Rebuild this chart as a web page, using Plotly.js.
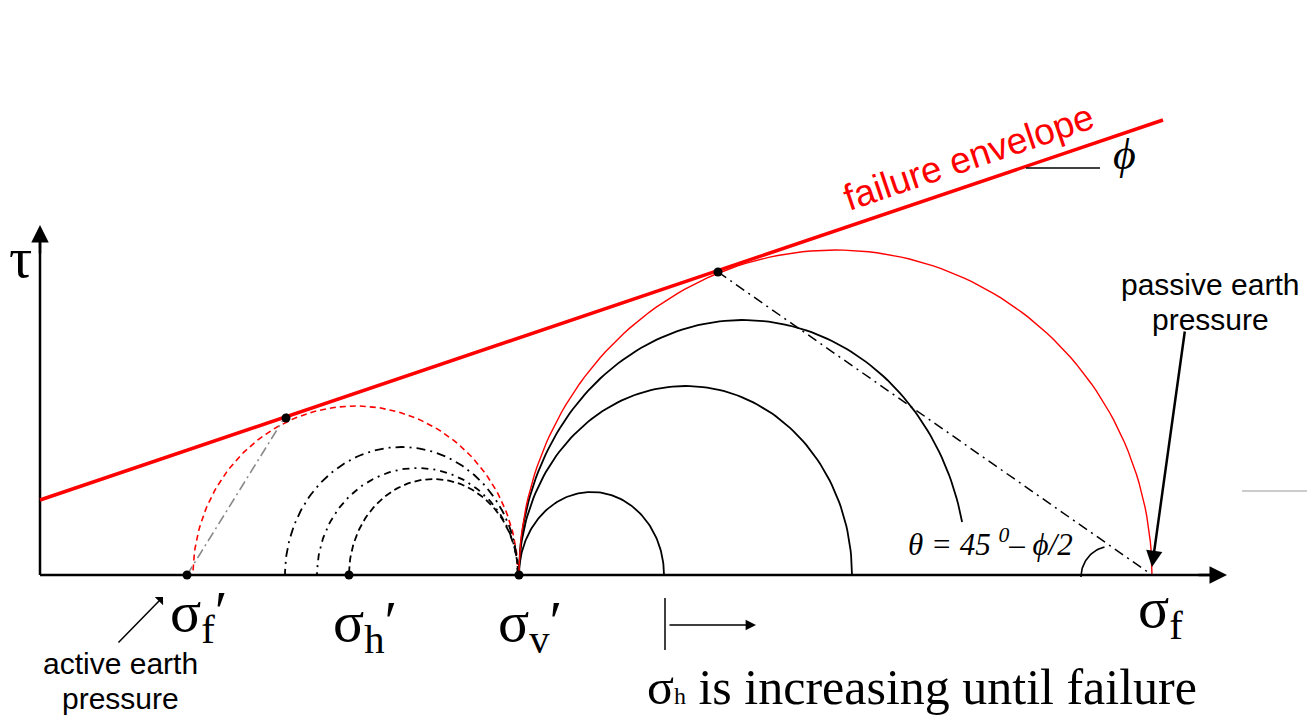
<!DOCTYPE html>
<html>
<head>
<meta charset="utf-8">
<script src="https://cdn.plot.ly/plotly-3.0.1.min.js"></script>
<style>html,body{margin:0;padding:0;background:#fff;}#chart{width:1307px;height:715px;}</style>
</head>
<body>
<div id="chart"></div>
<script>
// ---- Data (sigma along x, tau along y; diagram units) ----
const circleNames   = ['active failure', 'trial 3', 'trial 2', 'trial 1', 'stage 1', 'stage 2', 'stage 3', 'passive failure'];
const circleCenter  = [315.5, 361.5, 377.5, 393.5, 551.5, 645.5, 703, 795.5];
const circleHalfW   = [162.5, 116.5, 100.5, 84.5, 72.5, 166.5, 224, 316.5];
const circleHeight  = [169, 128, 107, 96, 83, 189, 255, 325];
const circleEndDeg  = [0, 0, 0, 0, 0, 0, 12, 0];
const circleColor   = ['#ff0000', '#000000', '#000000', '#000000', '#000000', '#000000', '#000000', '#ff0000'];
const circleDash    = ['6px,4px', '9px,5px,2px,5px', '7px,5px,2px,5px', '7px,4px', 'solid', 'solid', 'solid', 'solid'];
const circleWidth   = [1.6, 1.8, 1.8, 1.8, 1.8, 1.8, 1.8, 1.4];

const envelopeX = [0, 1123];
const envelopeY = [75, 455];

const dotX = [147, 309, 479, 246, 678];
const dotY = [0, 0, 0, 157, 303];

const activePlaneX = [147, 248];
const activePlaneY = [0, 163];
const passivePlaneX = [678, 1112];
const passivePlaneY = [303, 0];

const phiLineX = [986, 1060];
const phiLineY = [407, 407];

const axisOrigin = [0, 0];
const sigmaAxisEnd = 1187;
const tauAxisEnd = 350;

const angleArcCenter = [1072, -2];
const angleArcRadius = 31;
const angleArcDeg = [104, 180];

const stageBarX = [625, 625];
const stageBarY = [-23, -75];

// ---- Build traces ----
const traces = [];
const N = 120;
for (let i = 0; i < circleCenter.length; i++) {
  const xs = [], ys = [];
  const t0 = circleEndDeg[i] * Math.PI / 180;
  for (let k = 0; k <= N; k++) {
    const t = t0 + (Math.PI - t0) * k / N;
    xs.push(circleCenter[i] + circleHalfW[i] * Math.cos(t));
    ys.push(circleHeight[i] * Math.sin(t));
  }
  traces.push({x: xs, y: ys, mode: 'lines', name: circleNames[i], hoverinfo: 'skip',
    line: {color: circleColor[i], width: circleWidth[i], dash: circleDash[i]}});
}
// angle arc
{
  const xs = [], ys = [];
  for (let k = 0; k <= 30; k++) {
    const a = (angleArcDeg[0] + (angleArcDeg[1] - angleArcDeg[0]) * k / 30) * Math.PI / 180;
    xs.push(angleArcCenter[0] + angleArcRadius * Math.cos(a));
    ys.push(angleArcCenter[1] + angleArcRadius * Math.sin(a));
  }
  traces.push({x: xs, y: ys, mode: 'lines', hoverinfo: 'skip', line: {color: '#000', width: 1.6}});
}
traces.push({x: [axisOrigin[0], sigmaAxisEnd - 14], y: [0, 0], mode: 'lines', hoverinfo: 'skip', line: {color: '#000', width: 2.5}});
traces.push({x: [0, 0], y: [axisOrigin[1], tauAxisEnd - 14], mode: 'lines', hoverinfo: 'skip', line: {color: '#000', width: 2.5}});
traces.push({x: envelopeX, y: envelopeY, mode: 'lines', hoverinfo: 'skip', line: {color: '#ff0000', width: 3.5}});
traces.push({x: activePlaneX, y: activePlaneY, mode: 'lines', hoverinfo: 'skip', line: {color: '#888888', width: 1.5, dash: '10px,4px,2px,4px'}});
traces.push({x: passivePlaneX, y: passivePlaneY, mode: 'lines', hoverinfo: 'skip', line: {color: '#000', width: 1.5, dash: '10px,5px,2px,5px'}});
traces.push({x: phiLineX, y: phiLineY, mode: 'lines', hoverinfo: 'skip', line: {color: '#000', width: 1.6}});
traces.push({x: stageBarX, y: stageBarY, mode: 'lines', hoverinfo: 'skip', line: {color: '#000', width: 1.5}});
traces.push({x: dotX, y: dotY, mode: 'markers', hoverinfo: 'skip', marker: {color: '#000', size: 9}});

const serif = 'Liberation Serif, Times New Roman, serif';
const sans = 'Liberation Sans, Arial, sans-serif';

const ann = [];
function txt(x, y, text, size, family, extra) {
  ann.push(Object.assign({x: x, y: y, xref: 'x', yref: 'y', text: text, showarrow: false,
    font: {size: size, family: family, color: '#000'}}, extra || {}));
}
function arrow(tx, ty, fx, fy, w, head, size) {
  ann.push({x: tx, y: ty, ax: fx, ay: fy, xref: 'x', yref: 'y', axref: 'x', ayref: 'y', text: '',
    showarrow: true, arrowhead: head, arrowsize: size, arrowwidth: w, arrowcolor: '#000'});
}
// axis arrowheads
arrow(sigmaAxisEnd, 0, sigmaAxisEnd - 30, 0, 2.5, 2, 1.4);
arrow(0, tauAxisEnd, 0, tauAxisEnd - 30, 2.5, 2, 1.4);
// passive arrow
arrow(1112, 8, 1145, 245, 2.5, 2, 1.3);
// active arrow
arrow(123, -22, 77, -69, 1.5, 1, 1.3);
// stage arrow
arrow(716, -50, 628, -50, 1.6, 2, 1.3);

txt(-20, 318, 'τ', 58, serif);
txt(928, 418, 'failure envelope', 37, sans, {textangle: -18.7, font: {size: 37, family: sans, color: '#ff0000'}});
txt(1084, 421, '<i>ϕ</i>', 44, serif);
txt(1170, 291, 'passive earth', 30, sans);
txt(1170, 256, 'pressure', 30, sans);
txt(80, -88, 'active earth', 30, sans);
txt(80, -123, 'pressure', 30, sans);
txt(158, -40, 'σ<sub>f</sub>′', 58, serif);
txt(325, -50, 'σ<sub>h</sub>′', 58, serif);
txt(490, -50, 'σ<sub>v</sub>′', 58, serif);
txt(1120, -36, 'σ<sub>f</sub>', 58, serif);
txt(882, -112, 'σ<span style="font-size:24px">h</span> is increasing until failure', 50, serif);
txt(950, 33, '<i>θ = 45 <sup>0</sup>– ϕ/2</i>', 31, serif);

const layout = {
  width: 1307, height: 715,
  margin: {l: 0, r: 0, t: 0, b: 0},
  paper_bgcolor: '#fff', plot_bgcolor: '#fff',
  showlegend: false,
  xaxis: {range: [-40, 1267], visible: false, fixedrange: true},
  yaxis: {range: [-140, 575], visible: false, fixedrange: true},
  annotations: ann,
  shapes: [{type: 'line', xref: 'paper', yref: 'paper', x0: 1242/1307, x1: 1, y0: 1 - 491/715, y1: 1 - 491/715,
    line: {color: '#999', width: 1.2}}]
};
Plotly.newPlot('chart', traces, layout, {displayModeBar: false});
</script>
</body>
</html>
